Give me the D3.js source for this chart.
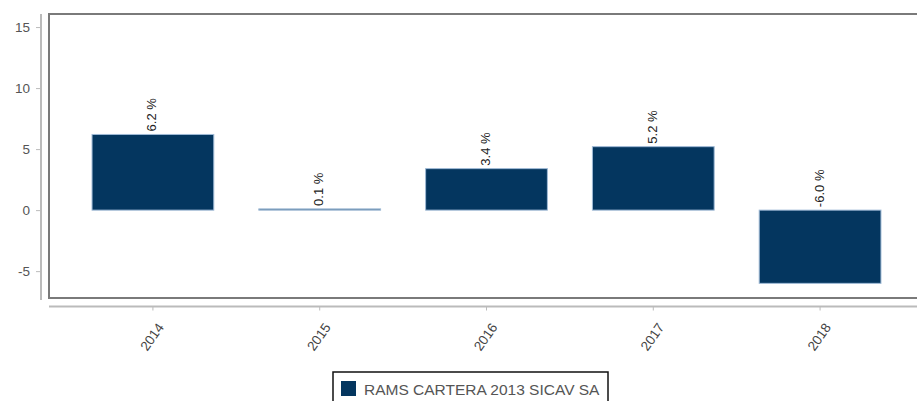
<!DOCTYPE html>
<html>
<head>
<meta charset="utf-8">
<script src="https://cdn.jsdelivr.net/npm/d3@7"></script>
<style>
  body { margin: 0; background: #fff; font-family: "Liberation Sans", Arial, sans-serif; }
</style>
</head>
<body>
<div id="chart"></div>
<script>
const years = ["2014", "2015", "2016", "2017", "2018"];
const returns = [6.2, 0.1, 3.4, 5.2, -6.0];
const yTicks = [-5, 0, 5, 10, 15];
const seriesName = "RAMS CARTERA 2013 SICAV SA";

const W = 917, H = 401;
const plot = { left: 49, top: 14, right: 926, bottom: 298 };

const svg = d3.select("#chart")
  .append("svg")
  .attr("width", W)
  .attr("height", H);

const x = d3.scaleBand()
  .domain(years)
  .range([47, 926])
  .padding(0.27);

const y = d3.scaleLinear()
  .domain([-7.2, 16.07])
  .range([plot.bottom, plot.top]);

// hyphen minus like the original, not the unicode one
const num = v => String(v);

// plot frame
svg.append("rect")
  .attr("x", plot.left)
  .attr("y", plot.top)
  .attr("width", plot.right - plot.left)
  .attr("height", plot.bottom - plot.top)
  .attr("fill", "none")
  .attr("stroke", "#7a7a7a")
  .attr("stroke-width", 2);

// Y axis (offset to the left of the frame)
const yAxis = svg.append("g")
  .attr("transform", "translate(41,0)")
  .call(d3.axisLeft(y).tickValues(yTicks).tickFormat(num).tickSize(5).tickPadding(6).tickSizeOuter(0));
yAxis.select(".domain").attr("stroke", "#bbb").attr("stroke-width", 2)
  .attr("d", `M0,${plot.top}V${plot.bottom + 2}`);
yAxis.selectAll(".tick line").attr("stroke", "#bbb");
yAxis.selectAll(".tick text")
  .attr("fill", "#555")
  .style("font-size", "13.5px")
  .style("font-family", "Liberation Sans, Arial, sans-serif");

// X axis (offset below the frame)
const xAxis = svg.append("g")
  .attr("transform", "translate(0,306.5)")
  .call(d3.axisBottom(x).tickSize(4).tickSizeOuter(0));
xAxis.select(".domain").attr("stroke", "#bbb").attr("stroke-width", 2)
  .attr("d", `M${plot.left},0H${W}`);
xAxis.selectAll(".tick line").attr("stroke", "#bbb");
xAxis.selectAll(".tick text")
  .attr("fill", "#444")
  .attr("text-anchor", "middle")
  .attr("dy", null)
  .attr("y", null)
  .attr("dominant-baseline", "middle")
  .attr("transform", "translate(0,31) rotate(-55)")
  .style("font-size", "13.5px")
  .style("font-family", "Liberation Sans, Arial, sans-serif");

const data = years.map((yr, i) => ({ year: yr, value: returns[i] }));

// bars
svg.selectAll(".bar")
  .data(data)
  .enter()
  .append("rect")
  .attr("class", "bar")
  .attr("x", d => x(d.year))
  .attr("width", x.bandwidth())
  .attr("y", d => y(Math.max(0, d.value)))
  .attr("height", d => Math.max(0.5, Math.abs(y(d.value) - y(0))))
  .attr("fill", "#04365f")
  .attr("stroke", "#9fbad6")
  .attr("stroke-width", 1);

// value labels
svg.selectAll(".lbl")
  .data(data)
  .enter()
  .append("text")
  .attr("class", "lbl")
  .attr("transform", d => `translate(${x(d.year) + x.bandwidth() / 2},${y(Math.max(0, d.value)) - 3}) rotate(-90)`)
  .attr("text-anchor", "start")
  .attr("dominant-baseline", "middle")
  .attr("fill", "#222")
  .style("font-size", "13px")
  .text(d => d.value.toFixed(1) + " %");

// legend
const legend = svg.append("g").attr("transform", "translate(333,372)");
legend.append("rect")
  .attr("x", 0).attr("y", 0)
  .attr("width", 275).attr("height", 40)
  .attr("fill", "#fff")
  .attr("stroke", "#111")
  .attr("stroke-width", 1.5);
legend.append("rect")
  .attr("x", 8).attr("y", 9)
  .attr("width", 15).attr("height", 15)
  .attr("fill", "#04365f");
legend.append("text")
  .attr("x", 31).attr("y", 23)
  .attr("fill", "#555")
  .style("font-size", "15.5px")
  .text(seriesName);
</script>
</body>
</html>
